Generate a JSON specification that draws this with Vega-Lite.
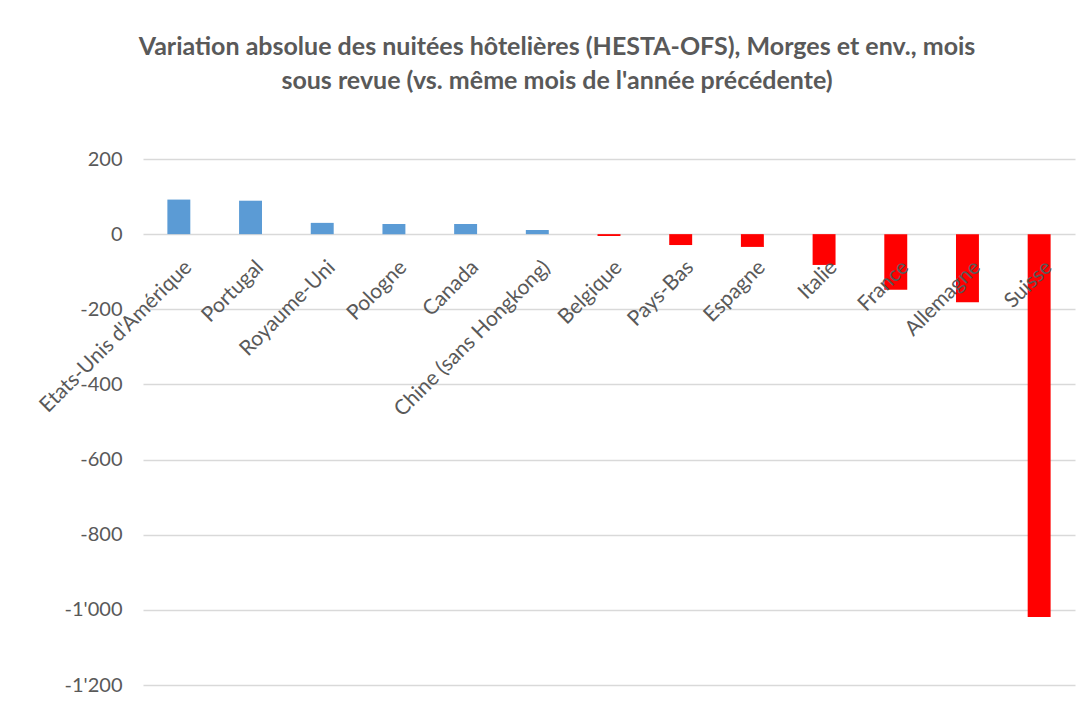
{
  "$schema": "https://vega.github.io/schema/vega-lite/v6.json",
  "autosize": {"type": "none"},
  "padding": {"left": 143, "top": 159, "right": 13, "bottom": 20},
  "width": 932,
  "height": 526,
  "background": "white",
  "config": {
    "view": {"stroke": null},
    "font": "Lato",
    "locale": {"number": {"decimal": ".", "thousands": "'", "grouping": [3], "currency": ["", ""], "minus": "-"}}
  },
  "title": {
    "text": ["Variation absolue des nuitées hôtelières (HESTA-OFS), Morges et env., mois", "sous revue (vs. même mois de l'année précédente)"],
    "font": "Lato",
    "fontSize": 25,
    "fontWeight": "bold",
    "color": "#595959",
    "lineHeight": 34,
    "anchor": "middle",
    "dx": -52,
    "offset": 55
  },
  "data": {
    "values": [
      {"pays": "Etats-Unis d'Amérique", "v": 92},
      {"pays": "Portugal", "v": 89},
      {"pays": "Royaume-Uni", "v": 30},
      {"pays": "Pologne", "v": 27},
      {"pays": "Canada", "v": 27},
      {"pays": "Chine (sans Hongkong)", "v": 11},
      {"pays": "Belgique", "v": -5},
      {"pays": "Pays-Bas", "v": -29},
      {"pays": "Espagne", "v": -34},
      {"pays": "Italie", "v": -82},
      {"pays": "France", "v": -148},
      {"pays": "Allemagne", "v": -181},
      {"pays": "Suisse", "v": -1019}
    ]
  },
  "mark": {"type": "bar"},
  "encoding": {
    "x": {
      "field": "pays",
      "type": "nominal",
      "sort": null,
      "scale": {"paddingInner": 0.68, "paddingOuter": 0.34},
      "axis": {
        "title": null,
        "orient": "bottom",
        "offset": -450.86,
        "domain": false,
        "ticks": false,
        "grid": false,
        "labelAngle": -45,
        "labelAlign": "right",
        "labelBaseline": "top",
        "labelPadding": 22,
        "labelOffset": 2,
        "labelFontSize": 21,
        "labelColor": "#595959",
        "labelLimit": 0,
        "labelOverlap": false,
        "zindex": 1
      }
    },
    "y": {
      "field": "v",
      "type": "quantitative",
      "scale": {"domain": [-1200, 200], "nice": false, "zero": false},
      "axis": {
        "title": null,
        "values": [-1200, -1000, -800, -600, -400, -200, 0, 200],
        "format": ",d",
        "domain": false,
        "ticks": false,
        "grid": true,
        "gridColor": "#d9d9d9",
        "gridWidth": 1.3,
        "labelPadding": 21,
        "labelFontSize": 20,
        "labelColor": "#595959",
        "zindex": 0
      }
    },
    "color": {
      "condition": {"test": "datum.v >= 0", "value": "#5B9BD5"},
      "value": "#FF0000"
    }
  }
}
